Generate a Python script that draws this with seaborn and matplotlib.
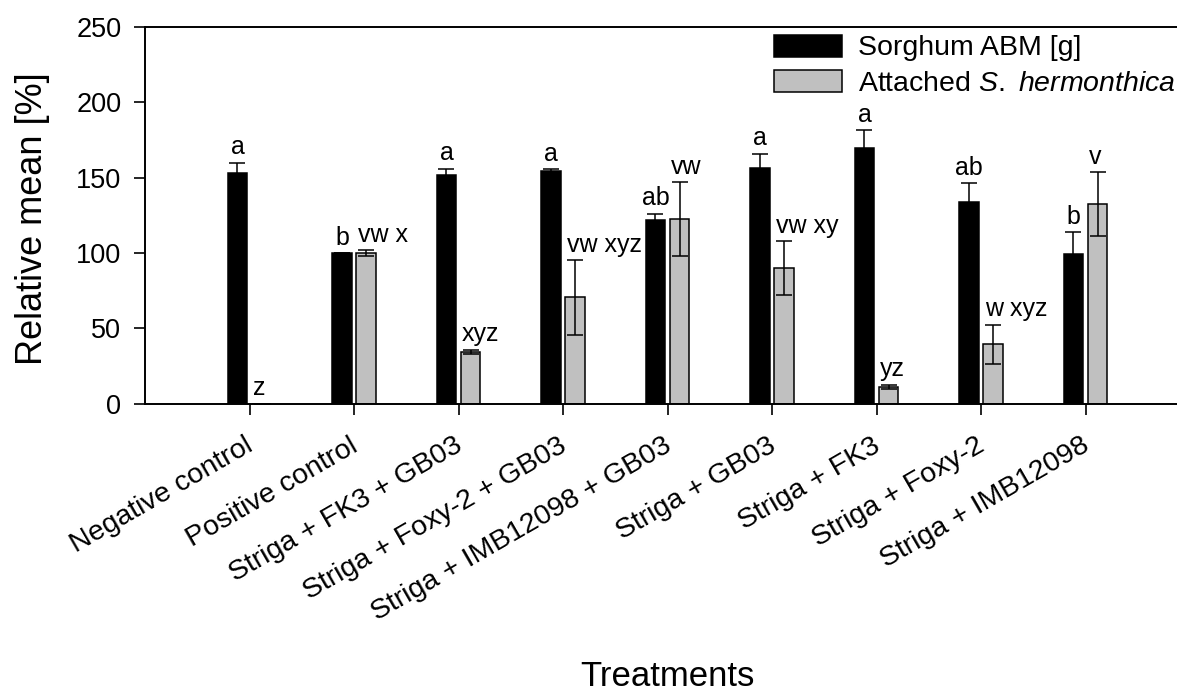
import numpy as np
import pandas as pd
import matplotlib
matplotlib.use('Agg')
import matplotlib.pyplot as plt
import matplotlib.transforms as mtransforms
import seaborn as sns

# data
treatments = ['Negative control', 'Positive control', 'Striga + FK3 + GB03',
              'Striga + Foxy-2 + GB03', 'Striga + IMB12098 + GB03', 'Striga + GB03',
              'Striga + FK3', 'Striga + Foxy-2', 'Striga + IMB12098']
series = ['Sorghum ABM [g]', 'Attached $\\mathit{S.}$ $\\mathit{hermonthica}$']

sorghum_mean = [153, 100, 151.5, 154.6, 122, 156.5, 169.7, 133.8, 99]
sorghum_err = [7, 0, 4.5, 1.2, 4, 9.5, 11.7, 12.7, 15]
striga_mean = [0, 100, 34.3, 70.4, 122.6, 90, 11.1, 39.2, 132.5]
striga_err = [0, 1.8, 1.5, 24.7, 24.5, 18, 1.5, 13.2, 21.3]

sorghum_letters = ['a', 'b', 'a', 'a', 'ab', 'a', 'a', 'ab', 'b']
striga_letters = ['z', 'vw x', 'xyz', 'vw xyz', 'vw', 'vw xy', 'yz', 'w xyz', 'v']

sns.set_style('ticks')
plt.rcParams['font.family'] = ['Liberation Sans', 'DejaVu Sans']
plt.rcParams['mathtext.fontset'] = 'custom'
plt.rcParams['mathtext.rm'] = 'Liberation Sans'
plt.rcParams['mathtext.it'] = 'Liberation Sans:italic'
for key in ['text.color', 'axes.labelcolor', 'xtick.color', 'ytick.color']:
    plt.rcParams[key] = 'black'

df = pd.DataFrame({
    'treatment': treatments * 2,
    'series': [series[0]] * len(treatments) + [series[1]] * len(treatments),
    'value': sorghum_mean + striga_mean,
})

fig = plt.figure(figsize=(11.77, 6.95), dpi=100)
ax = fig.add_axes([145 / 1177, (695 - 403.5) / 695, 1045 / 1177, 376.5 / 695])

sns.barplot(data=df, x='treatment', y='value', hue='series', order=treatments,
            hue_order=series, palette=['black', '#c0c0c0'], width=0.46, gap=0.2,
            edgecolor='black', linewidth=1.1, errorbar=None, ax=ax)

# error bars and significance letters
all_err = [sorghum_err, striga_err]
all_mean = [sorghum_mean, striga_mean]
all_letters = [sorghum_letters, striga_letters]
bar_groups = list(ax.containers)
for k, cont in enumerate(bar_groups):
    xs = [p.get_x() + p.get_width() / 2 for p in cont.patches]
    ax.errorbar(xs, all_mean[k], yerr=all_err[k], fmt='none', ecolor='black',
                elinewidth=1.1, capsize=6, capthick=1.1, zorder=3)
    for x, m, e, lab in zip(xs, all_mean[k], all_err[k], all_letters[k]):
        if k == 0:
            ax.text(x, m + e + 5.5, lab, ha='center', va='baseline', fontsize=18)
        else:
            ax.text(x - 0.08, m + e + 5.5, lab, ha='left', va='baseline', fontsize=18)

ax.set_xlim(-1, 9)
ax.set_ylim(0, 250)
ax.set_yticks(range(0, 251, 50))

for side in ['left', 'bottom', 'top']:
    ax.spines[side].set_linewidth(1.4)
    ax.spines[side].set_color('black')
ax.spines['right'].set_visible(False)

ax.tick_params(axis='y', direction='out', length=8, width=1.2, pad=9, labelsize=19.5)
ax.tick_params(axis='x', direction='out', length=8, width=1.2, pad=13, labelsize=20.5)

offset = mtransforms.ScaledTranslation(-5 / 100, 0, fig.dpi_scale_trans)
for lbl in ax.get_xticklabels():
    lbl.set_rotation(30)
    lbl.set_ha('right')
    lbl.set_va('top')
    lbl.set_rotation_mode('anchor')
    lbl.set_transform(lbl.get_transform() + offset)

ax.set_xlabel('Treatments', fontsize=25)
ax.xaxis.set_label_coords(0.5, -0.68)
ax.set_ylabel('Relative mean [%]', fontsize=26)
ax.yaxis.set_label_coords(-0.091, 0.49)

handles, labels = ax.get_legend_handles_labels()
for h in handles:
    h.set_edgecolor('black')
    h.set_linewidth(1.1)
ax.legend(handles, labels, loc='upper left', bbox_to_anchor=(0.602, 0.98),
          frameon=False, fontsize=20.5, handlelength=2.4, handleheight=0.82,
          handletextpad=0.55, labelspacing=0.3, borderpad=0, borderaxespad=0)

fig.savefig('out.png', dpi=100)
